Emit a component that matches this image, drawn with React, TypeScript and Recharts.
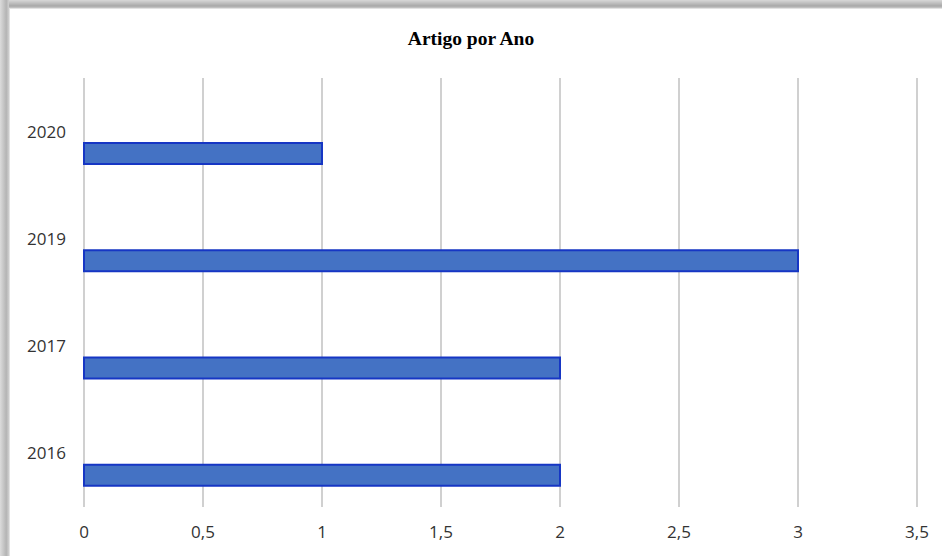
import React from 'react';
import { BarChart, Bar, XAxis, YAxis, CartesianGrid } from 'recharts';

// values
const anos = ['2020', '2019', '2017', '2016'];
const artigos = [1, 3, 2, 2];
const xTicks = [0, 0.5, 1, 1.5, 2, 2.5, 3, 3.5];

const data = anos.map((ano, i) => ({ ano, artigos: artigos[i] }));

const tickStyle = { fontFamily: '"Open Sans", "Noto Sans", sans-serif', fontSize: 17, fill: '#333' };

export default function App() {
  return (
    <div
      style={{
        position: 'absolute',
        left: 0,
        top: 0,
        width: 942,
        height: 556,
        overflow: 'hidden',
        background: '#fff',
      }}
    >
      {/* grey shadow frame along the top and left edges */}
      <div
        style={{
          position: 'absolute',
          left: 0,
          top: 0,
          width: 942,
          height: 8,
          background: 'linear-gradient(to bottom, #d8d8d8, #a8a8a8 75%, #c8c8c8)',
        }}
      />
      <div
        style={{
          position: 'absolute',
          left: 0,
          top: 0,
          width: 9,
          height: 556,
          background: 'linear-gradient(to right, #dcdcdc, #b4b4b4 70%, #d0d0d0)',
        }}
      />
      <div
        style={{
          position: 'absolute',
          left: 9,
          top: 8,
          width: 940,
          height: 560,
          background: '#fff',
          borderTop: '1px solid #e2e2e2',
          borderLeft: '1px solid #e2e2e2',
        }}
      />
      <div
        style={{
          position: 'absolute',
          left: 0,
          top: 28,
          width: 942,
          textAlign: 'center',
          fontFamily: '"Liberation Serif", "Times New Roman", serif',
          fontWeight: 'bold',
          fontSize: 19.5,
          color: '#000',
        }}
      >
        Artigo por Ano
      </div>
      <div style={{ position: 'absolute', left: 0, top: 0 }}>
        <BarChart
          width={942}
          height={556}
          data={data}
          layout="vertical"
          margin={{ top: 78, right: 25, bottom: 0, left: 1 }}
          barSize={21}
          barGap={23}
        >
          <CartesianGrid horizontal={false} stroke="#d0d0d0" strokeWidth={2} />
          <XAxis
            type="number"
            domain={[0, 3.5]}
            ticks={xTicks}
            interval={0}
            height={49}
            axisLine={false}
            tickLine={false}
            tickSize={0}
            tickMargin={19}
            tick={tickStyle}
            tickFormatter={(v: number) => String(v).replace('.', ',')}
          />
          <YAxis
            type="category"
            dataKey="ano"
            width={83}
            axisLine={false}
            tickLine={false}
            tickSize={0}
            tickMargin={18}
            tick={tickStyle}
          />
          {/* empty series, keeps the real bar in the lower half of each band like the original */}
          <Bar dataKey="vazio" fill="none" isAnimationActive={false} />
          <Bar dataKey="artigos" fill="#4472c4" stroke="#1636c4" strokeWidth={2} isAnimationActive={false} />
        </BarChart>
      </div>
    </div>
  );
}
